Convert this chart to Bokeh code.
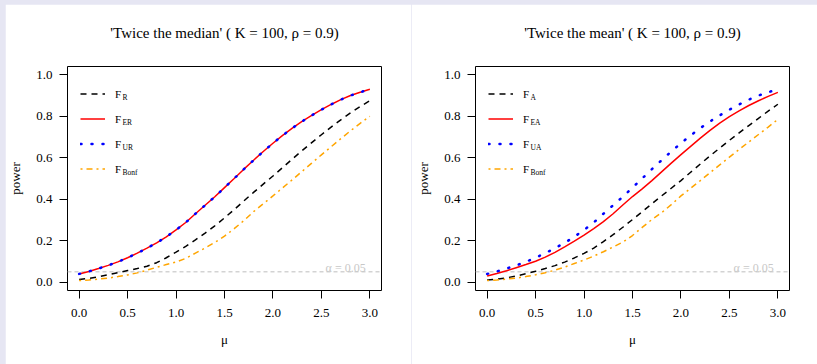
from bokeh.plotting import figure
from bokeh.layouts import row
from bokeh.models import Legend, LegendItem, Label, Span, FixedTicker, PrintfTickFormatter, Title
from bokeh.embed import file_html
from bokeh.resources import INLINE
from bokeh.core.templates import get_env

# ---------------- data ----------------
mu = [0.0, 0.1, 0.2, 0.3, 0.4, 0.5, 0.6, 0.7, 0.8, 0.9, 1.0,
      1.1, 1.2, 1.3, 1.4, 1.5, 1.6, 1.7, 1.8, 1.9, 2.0,
      2.1, 2.2, 2.3, 2.4, 2.5, 2.6, 2.7, 2.8, 2.9, 3.0]

# 'Twice the median'
med_FR = [0.013, 0.018, 0.026, 0.036, 0.046, 0.056, 0.066, 0.077, 0.094, 0.118, 0.145,
          0.173, 0.204, 0.237, 0.272, 0.310, 0.350, 0.392, 0.433, 0.473, 0.512,
          0.553, 0.594, 0.634, 0.673, 0.711, 0.748, 0.783, 0.816, 0.847, 0.875]
med_FER = [0.040, 0.052, 0.066, 0.081, 0.098, 0.118, 0.140, 0.164, 0.190, 0.219, 0.252,
           0.288, 0.330, 0.371, 0.412, 0.456, 0.500, 0.545, 0.588, 0.630, 0.670,
           0.708, 0.743, 0.775, 0.804, 0.832, 0.857, 0.880, 0.900, 0.916, 0.930]
med_FUR = [0.040, 0.052, 0.066, 0.081, 0.098, 0.118, 0.140, 0.164, 0.190, 0.219, 0.252,
           0.288, 0.330, 0.371, 0.412, 0.456, 0.500, 0.545, 0.588, 0.630, 0.670,
           0.708, 0.743, 0.775, 0.804, 0.832, 0.857, 0.880, 0.900, 0.916, 0.930]
med_FBonf = [0.008, 0.011, 0.015, 0.020, 0.027, 0.035, 0.045, 0.058, 0.072, 0.085, 0.097,
             0.115, 0.140, 0.165, 0.192, 0.222, 0.258, 0.297, 0.340, 0.378, 0.416,
             0.455, 0.494, 0.534, 0.574, 0.614, 0.653, 0.692, 0.730, 0.766, 0.800]

# 'Twice the mean'
mean_FA = [0.011, 0.015, 0.021, 0.030, 0.041, 0.053, 0.066, 0.080, 0.097, 0.117, 0.139,
           0.164, 0.196, 0.229, 0.265, 0.302, 0.340, 0.378, 0.416, 0.453, 0.490,
           0.530, 0.570, 0.609, 0.647, 0.684, 0.720, 0.755, 0.790, 0.825, 0.858]
mean_FEA = [0.030, 0.042, 0.055, 0.070, 0.085, 0.101, 0.121, 0.144, 0.170, 0.198, 0.227,
            0.258, 0.292, 0.330, 0.372, 0.413, 0.450, 0.490, 0.532, 0.574, 0.615,
            0.655, 0.695, 0.732, 0.767, 0.798, 0.826, 0.852, 0.875, 0.896, 0.915]
mean_FUA = [0.040, 0.052, 0.066, 0.081, 0.098, 0.118, 0.140, 0.164, 0.190, 0.219, 0.252,
            0.288, 0.330, 0.371, 0.412, 0.456, 0.500, 0.545, 0.588, 0.630, 0.670,
            0.708, 0.743, 0.775, 0.804, 0.832, 0.857, 0.880, 0.900, 0.916, 0.930]
mean_FBonf = [0.008, 0.011, 0.015, 0.020, 0.027, 0.036, 0.046, 0.058, 0.073, 0.090, 0.107,
              0.126, 0.147, 0.170, 0.193, 0.225, 0.264, 0.302, 0.335, 0.374, 0.416,
              0.453, 0.490, 0.528, 0.566, 0.603, 0.640, 0.676, 0.712, 0.748, 0.785]

x_ticks = [0.0, 0.5, 1.0, 1.5, 2.0, 2.5, 3.0]
y_ticks = [0.0, 0.2, 0.4, 0.6, 0.8, 1.0]
alpha_level = 0.05
alpha_text = "\u03b1 = 0.05"

titles = ["'Twice the median' ( K = 100, \u03c1 = 0.9)",
          "'Twice the mean' ( K = 100, \u03c1 = 0.9)"]
subs_median = ["R", "ER", "UR", "Bonf"]
subs_mean = ["A", "EA", "UA", "Bonf"]

# ---------------- styling ----------------
SERIF = "Liberation Serif"
STYLES = [
    dict(line_color="black", line_dash="6 5", line_width=1.5),
    dict(line_color="red", line_dash="solid", line_width=1.5),
    dict(line_color="blue", line_dash="1 10", line_width=2.5, line_cap="round"),
    dict(line_color="orange", line_dash="2 4 6 4", line_width=1.5),
]


def panel(title, series, subs, left_border, right_border):
    p = figure(width=406, height=360, x_range=(-0.12, 3.12), y_range=(-0.04, 1.04),
               output_backend="svg", toolbar_location=None, title=None,
               min_border_left=left_border, min_border_right=right_border,
               min_border_top=62, min_border_bottom=74)
    p.background_fill_color = "white"
    p.border_fill_color = "white"
    p.outline_line_color = "black"
    p.outline_line_width = 1
    p.outline_line_alpha = 1.0
    p.xgrid.grid_line_color = None
    p.ygrid.grid_line_color = None

    # spacer between plot box and title, then the title itself
    p.add_layout(Title(text=" ", text_font_size="1px", standoff=23), "above")
    p.add_layout(Title(text=title, align="center", text_font=SERIF, text_font_size="15px",
                       text_font_style="normal", text_color="black", standoff=0,
                       vertical_align="bottom"), "above")

    for ax, ticks in ((p.xaxis[0], x_ticks), (p.yaxis[0], y_ticks)):
        ax.ticker = FixedTicker(ticks=ticks, minor_ticks=[])
        ax.formatter = PrintfTickFormatter(format="%.1f")
        ax.axis_line_color = None
        ax.major_tick_line_color = "black"
        ax.major_tick_out = 8
        ax.major_tick_in = 0
        ax.minor_tick_line_color = None
        ax.major_label_text_font = SERIF
        ax.major_label_text_font_size = "13px"
        ax.major_label_text_color = "black"
        ax.axis_label_text_font = SERIF
        ax.axis_label_text_font_size = "13px"
        ax.axis_label_text_font_style = "normal"
        ax.axis_label_text_color = "black"
    p.xaxis.axis_label = "\u03bc"
    p.yaxis.axis_label = "power"
    p.xaxis.major_label_standoff = 10
    p.yaxis.major_label_standoff = 7
    p.xaxis.axis_label_standoff = 12
    p.yaxis.axis_label_standoff = 10

    p.add_layout(Span(location=alpha_level, dimension="width", line_color="#d3d3d3",
                      line_dash="4 3", line_width=1.5, level="underlay"))
    p.add_layout(Label(x=2.75, y=alpha_level + 0.02, text=alpha_text, text_align="center",
                       text_baseline="middle", text_font=SERIF, text_font_size="12px",
                       text_color="#c8c8c8"))

    items = []
    for ys, st in zip(series, STYLES):
        r = p.line(mu, ys, **st)
        items.append(LegendItem(label="F", renderers=[r]))

    legend = Legend(items=items, location=(13, 109), margin=0, padding=0, spacing=0,
                    glyph_width=25, glyph_height=25, label_height=25, label_standoff=10,
                    label_text_font=SERIF, label_text_font_size="11px",
                    label_text_color="black", border_line_color=None,
                    background_fill_alpha=0)
    p.add_layout(legend)

    for i, s in enumerate(subs):
        p.add_layout(Label(x=55, y=196.5 - 25 * i - 3.3, x_units="screen", y_units="screen",
                           text=s, text_font=SERIF, text_font_size="7.5px",
                           text_baseline="alphabetic", text_color="black"))
    return p


p1 = panel(titles[0], [med_FR, med_FER, med_FUR, med_FBonf], subs_median, 62, 30)
p2 = panel(titles[1], [mean_FA, mean_FEA, mean_FUA, mean_FBonf], subs_mean, 64, 28)
layout = row(p1, p2)

tmpl = get_env().from_string(
    '{% extends "file.html" %}'
    '{% block postamble %}<style>html, body { background: #e6e6f3 !important; } '
    'body { margin: 4px 0 0 5px !important; }</style>{% endblock %}'
)

open("out.html", "w").write(file_html(layout, INLINE, template=tmpl))
